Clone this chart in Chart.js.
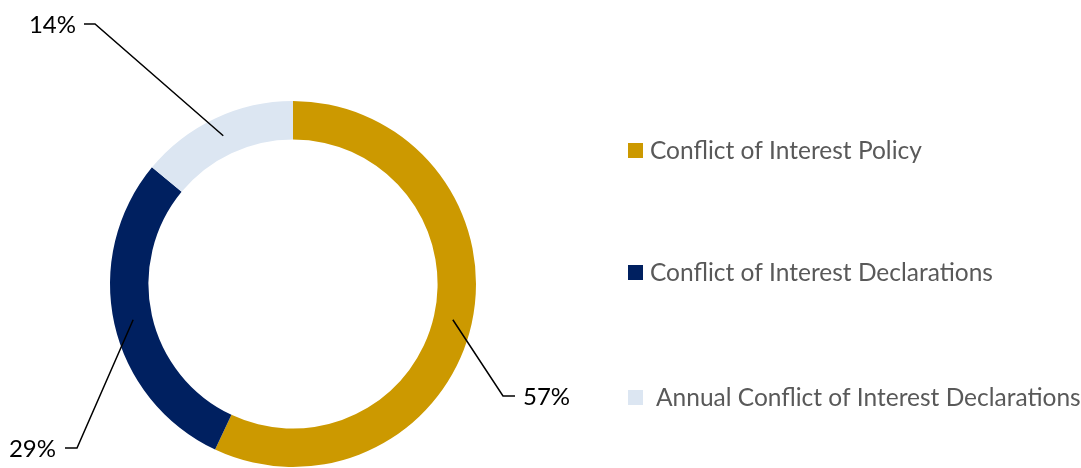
<!DOCTYPE html>
<html>
<head>
<meta charset="utf-8">
<script src="https://cdn.jsdelivr.net/npm/chart.js@4.4.0/dist/chart.umd.min.js"></script>
<style>
  html, body { margin: 0; padding: 0; background: #fff; }
  #wrap { width: 1081px; height: 468px; position: relative; }
</style>
</head>
<body>
<div id="wrap"><canvas id="donut"></canvas></div>
<script>
// chart data
const categories = ['Conflict of Interest Policy', 'Conflict of Interest Declarations', 'Annual Conflict of Interest Declarations'];
const shares = [57, 29, 14];
const sliceColors = ['#CC9900', '#002060', '#DCE6F2'];

const FONT = 'Lato, "Noto Sans", sans-serif';

// leader lines + percentage labels
const calloutPlugin = {
    id: 'callouts',
    afterDatasetsDraw(chart) {
        const ctx = chart.ctx;
        const meta = chart.getDatasetMeta(0);
        // where each label sits: elbow point, end of short tick, text anchor
        const spots = [
            { elbow: [503, 396], end: [515, 396], text: [523, 397], align: 'left' },
            { elbow: [77, 448], end: [65, 448], text: [56, 449], align: 'right' },
            { elbow: [95, 24], end: [84, 24], text: [76, 25], align: 'right' }
        ];
        ctx.save();
        meta.data.forEach((arc, i) => {
            const p = arc.getProps(['x', 'y', 'startAngle', 'endAngle', 'innerRadius', 'outerRadius'], true);
            const mid = (p.startAngle + p.endAngle) / 2;
            const r = (p.innerRadius + p.outerRadius) / 2;
            const ax = p.x + Math.cos(mid) * r;
            const ay = p.y + Math.sin(mid) * r;
            const s = spots[i];
            ctx.strokeStyle = '#000';
            ctx.lineWidth = 1.5;
            ctx.beginPath();
            ctx.moveTo(ax, ay);
            ctx.lineTo(s.elbow[0], s.elbow[1]);
            ctx.lineTo(s.end[0], s.end[1]);
            ctx.stroke();
            ctx.fillStyle = '#000';
            ctx.font = '24px ' + FONT;
            ctx.textAlign = s.align;
            ctx.textBaseline = 'middle';
            ctx.fillText(shares[i] + '%', s.text[0], s.text[1]);
        });
        ctx.restore();
    }
};

// legend on the right
const sideLegend = {
    id: 'sideLegend',
    afterDraw(chart) {
        const ctx = chart.ctx;
        const rows = [150, 272, 397];
        const textX = [650, 650, 656];
        ctx.save();
        ctx.font = '24.5px ' + FONT;
        ctx.textBaseline = 'middle';
        ctx.textAlign = 'left';
        chart.data.labels.forEach((lab, i) => {
            ctx.fillStyle = sliceColors[i];
            ctx.fillRect(628, rows[i] - 7, 15, 15);
            ctx.fillStyle = '#595959';
            ctx.fillText(lab, textX[i], rows[i] + 1);
        });
        ctx.restore();
    }
};

new Chart(document.getElementById('donut'), {
    type: 'doughnut',
    data: {
        labels: categories,
        datasets: [{
            data: shares,
            backgroundColor: sliceColors,
            borderWidth: 0
        }]
    },
    options: {
        responsive: true,
        maintainAspectRatio: false,
        animation: false,
        cutout: '79%',
        layout: { padding: { left: 110, right: 605, top: 101, bottom: 1 } },
        plugins: {
            legend: { display: false },
            tooltip: { enabled: false }
        }
    },
    plugins: [calloutPlugin, sideLegend]
});
</script>
</body>
</html>
